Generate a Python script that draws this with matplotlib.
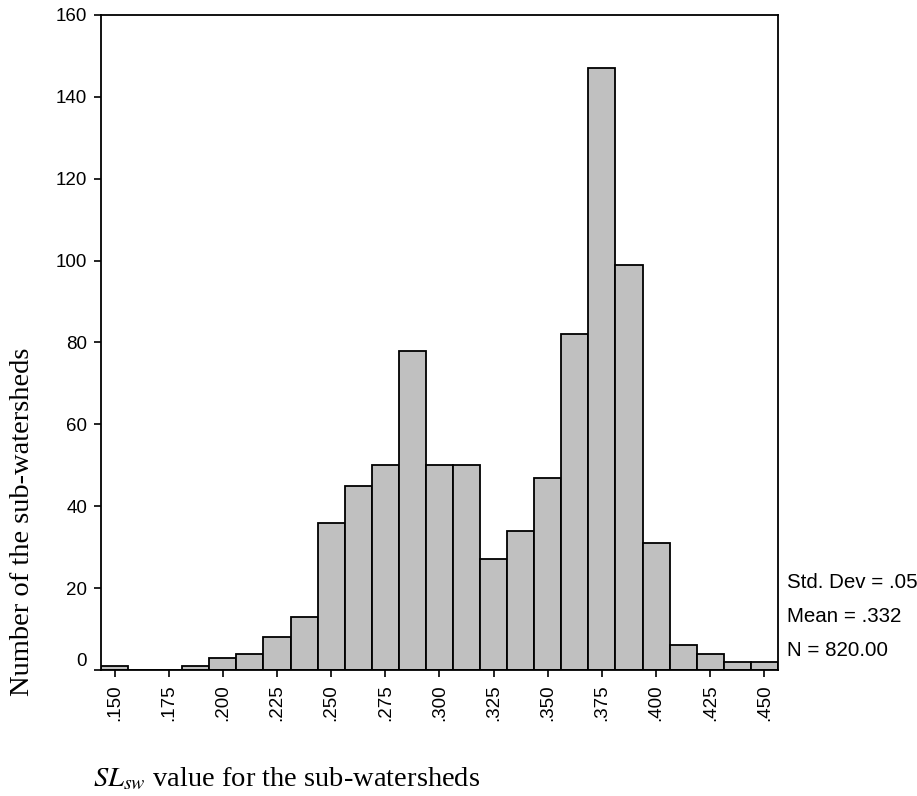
import numpy as np
import matplotlib
matplotlib.use("Agg")
import matplotlib.pyplot as plt

# histogram data (bin width .0125)
bin_start = 0.150
bin_width = 0.0125
counts = [1, 0, 0, 1, 3, 4, 8, 13, 36, 45, 50, 78, 50,
          50, 27, 34, 47, 82, 147, 99, 31, 6, 4, 2, 2]
x_ticks = [0.150, 0.175, 0.200, 0.225, 0.250, 0.275, 0.300,
           0.325, 0.350, 0.375, 0.400, 0.425, 0.450]
x_tick_labels = [".150", ".175", ".200", ".225", ".250", ".275", ".300",
                 ".325", ".350", ".375", ".400", ".425", ".450"]
y_ticks = [0, 20, 40, 60, 80, 100, 120, 140, 160]
stats_lines = ["Std. Dev = .05", "Mean = .332", "N = 820.00"]

centers = bin_start + bin_width * np.arange(len(counts))

plt.rcParams['font.family'] = ['Liberation Sans', 'DejaVu Sans']

fig = plt.figure(figsize=(9.17, 7.96), dpi=100)
ax = fig.add_axes([0.1101, 0.1583, 0.7383, 0.8229])

ax.bar(centers, counts, width=bin_width, color="#c0c0c0",
       edgecolor="black", linewidth=1.3)

ax.set_xlim(centers[0] - bin_width / 2, centers[-1] + bin_width / 2)
ax.set_ylim(0, 160)
ax.set_xticks(x_ticks)
ax.set_xticklabels(x_tick_labels, rotation=90, fontsize=13.5)
ax.set_yticks(y_ticks)
ax.set_yticklabels([str(v) for v in y_ticks], fontsize=13.5)
ax.tick_params(direction="out", length=5, width=1.2, pad=5)
for s in ax.spines.values():
    s.set_linewidth(1.3)

# SPSS puts the "0" just above the axis line
ax.yaxis.get_major_ticks()[0].label1.set_verticalalignment("bottom")

fig.text(0.024, 0.344, "Number of the sub-watersheds", rotation=90,
         ha="center", va="center", fontsize=20.5, family="Liberation Serif")
fig.text(0.101, 0.004, r"$\mathit{SL}_{\mathit{sw}}$ value for the sub-watersheds",
         ha="left", va="bottom", fontsize=20.5, family="Liberation Serif",
         math_fontfamily="stix")

for i, line in enumerate(stats_lines):
    fig.text(0.858, 1 - (582 + 34.5 * i) / 796, line,
             ha="left", va="center", fontsize=14.8)

fig.savefig("out.png", dpi=100)
